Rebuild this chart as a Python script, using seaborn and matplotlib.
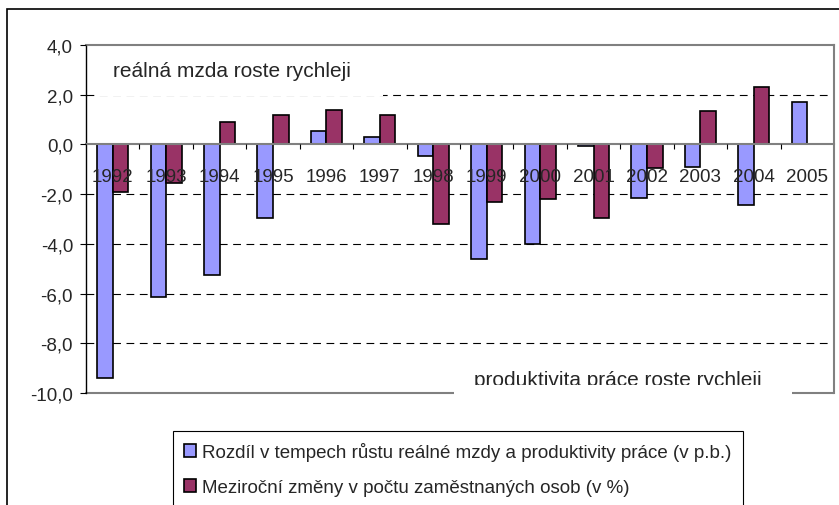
import numpy as np
import pandas as pd
import matplotlib
matplotlib.use("Agg")
import matplotlib.pyplot as plt
import seaborn as sns
from matplotlib.patches import Rectangle

years = ["1992", "1993", "1994", "1995", "1996", "1997", "1998",
         "1999", "2000", "2001", "2002", "2003", "2004", "2005"]
rozdil = [-9.4, -6.15, -5.25, -2.95, 0.55, 0.3, -0.45,
          -4.6, -4.0, -0.05, -2.15, -0.9, -2.45, 1.7]
zmeny = [-1.9, -1.55, 0.9, 1.2, 1.4, 1.2, -3.2,
         -2.3, -2.2, -2.95, -0.95, 1.35, 2.3, np.nan]
series_names = ["Rozdíl v tempech růstu reálné mzdy a produktivity práce (v p.b.)",
                "Meziroční změny v počtu zaměstnaných osob (v %)"]
yticks = [-10, -8, -6, -4, -2, 0, 2, 4]
gridlines = [-8, -6, -4, -2, 2]

blue = "#9999FF"
red = "#993366"
gray = "#808080"

sns.set_style("white")
plt.rcParams["font.family"] = ["Liberation Sans", "DejaVu Sans"]

df = pd.DataFrame({
    "rok": years * 2,
    "hodnota": rozdil + zmeny,
    "rada": [series_names[0]] * len(years) + [series_names[1]] * len(years),
})

W, H = 839, 506
fig = plt.figure(figsize=(W / 100, H / 100), dpi=100)
ax = fig.add_axes([86 / W, 1 - 394 / H, (834 - 86) / W, (394 - 46) / H])

sns.barplot(data=df, x="rok", y="hodnota", hue="rada", order=years,
            hue_order=series_names, palette=[blue, red], width=0.585,
            edgecolor="black", linewidth=1.2, saturation=1, errorbar=None, ax=ax)

ax.set_axisbelow(False)  # year labels sit on top of the bars
ax.set_xlim(-0.5, 13.5)
ax.set_ylim(-10, 4)
ax.set_xlabel("")
ax.set_ylabel("")

# dashed grid behind the bars
for v in gridlines:
    ax.axhline(v, color="black", lw=0.8, ls=(0, (7, 5)), zorder=0.5)

# frame / zero line
ax.spines["bottom"].set_position(("data", 0))
ax.spines["bottom"].set_color(gray)
ax.spines["bottom"].set_linewidth(1.5)
for s in ["top", "right"]:
    ax.spines[s].set_color(gray)
    ax.spines[s].set_linewidth(1.5)
ax.spines["left"].set_color("black")
ax.spines["left"].set_linewidth(1)
ax.axhline(-10, color=gray, lw=1.5, zorder=2.5, clip_on=False)

ax.set_yticks(yticks)
ax.set_yticklabels([f"{v:.1f}".replace(".", ",") for v in yticks])
ax.tick_params(axis="y", direction="out", length=4.3, width=0.8, color="black",
               pad=5, labelsize=13.5, left=True)
ax.set_xticks(range(len(years)))
ax.set_xticklabels(years)
ax.tick_params(axis="x", which="major", length=0, pad=17, labelsize=13.5)
ax.set_xticks(np.arange(0.5, len(years) - 0.5, 1), minor=True)
ax.tick_params(axis="x", which="minor", length=3.5, width=0.8, color="black",
               direction="out", bottom=True)

# annotation boxes
ax.add_patch(Rectangle((11 / 748, (394 - 97) / 348), (383 - 97) / 748, 48 / 348,
                       transform=ax.transAxes, facecolor="white", edgecolor="none",
                       zorder=0.8))
ax.text(27 / 748, (394 - 72) / 348, "reálná mzda roste rychleji",
        transform=ax.transAxes, ha="left", va="center", fontsize=15, zorder=4)

ax.add_patch(Rectangle(((454 - 86) / 748, (394 - 401) / 348), (792 - 454) / 748, 50 / 348,
                       transform=ax.transAxes, facecolor="white", edgecolor="none",
                       zorder=3, clip_on=False))
ax.text((474 - 86) / 748, (394 - 386) / 348, "produktivita práce roste rychleji",
        transform=ax.transAxes, ha="left", va="baseline", fontsize=15, zorder=4,
        clip_on=False)
ax.add_patch(Rectangle(((454 - 86) / 748, (394 - 401) / 348), (792 - 454) / 748, 15 / 348,
                       transform=ax.transAxes, facecolor="white", edgecolor="none",
                       zorder=5, clip_on=False))

# legend
handles, labels = ax.get_legend_handles_labels()
if ax.get_legend() is not None:
    ax.get_legend().remove()
leg = fig.legend(handles, labels, loc="upper left", bbox_to_anchor=(173 / W, 1 - 432 / H),
                 frameon=True, fancybox=False, edgecolor="black", framealpha=1,
                 fontsize=13.5, handlelength=0.65, handleheight=0.65, handletextpad=0.3,
                 labelspacing=0.95, borderpad=0.6, borderaxespad=0)
leg.get_frame().set_linewidth(0.8)

# outer chart frame
fig.add_artist(Rectangle((7 / W, -0.05), 1.0, 1 - 10 / H + 0.05, transform=fig.transFigure,
                         fill=False, edgecolor="black", lw=1.2))

fig.savefig("out.png", dpi=100)
